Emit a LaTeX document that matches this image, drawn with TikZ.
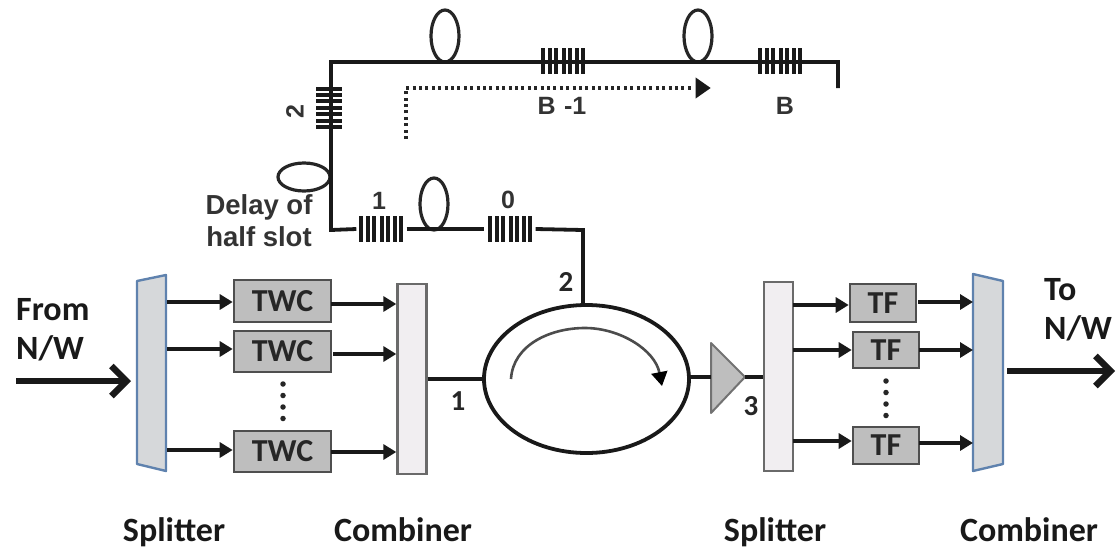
\documentclass[tikz,border=0pt]{standalone}
\usepackage{fontspec}
\setmainfont{Carlito}
\newfontfamily\arialb{Liberation Sans}
\usetikzlibrary{arrows.meta,shapes.geometric}
\definecolor{boxgrey}{HTML}{BEBEBE}
\definecolor{boxedge}{HTML}{4F4F4F}
\definecolor{trapfill}{HTML}{D6D8DA}
\definecolor{trapedge}{HTML}{5F82AE}
\definecolor{combfill}{HTML}{F1EEF1}
\definecolor{combedge}{HTML}{6A6A6A}
\tikzset{
  x=1pt,y=-1pt,
  fibre/.style={line width=3.8pt,black!90},
  loopv/.style={ellipse,draw=black!85,line width=3.2pt,fill=none,minimum width=28pt,minimum height=52pt,inner sep=0pt},
  looph/.style={ellipse,draw=black!85,line width=3.2pt,fill=none,minimum width=52pt,minimum height=28pt,inner sep=0pt},
  blockbox/.style={draw=boxedge,fill=boxgrey,line width=2.6pt,inner sep=0pt,font=\fontsize{32}{32}\selectfont\bfseries,text=black!85},
  combbox/.style={draw=combedge,fill=combfill,line width=2.4pt,inner sep=0pt,minimum width=29pt},
  trap/.style={draw=trapedge,fill=trapfill,line width=2.4pt,line join=round},
  feed/.style={line width=4.4pt,black!90,-{Triangle[length=13pt,width=15pt]}},
  bigarrow/.style={line width=6.5pt,black!90,-{Straight Barb[length=15pt,width=30pt,line width=6.5pt]}},
  gratingspot/.style={inner sep=0pt,draw=none,fill=none},
  capt/.style={font=\fontsize{34}{34}\selectfont\bfseries,text=black!90,inner sep=0pt,anchor=base},
  capw/.style={font=\fontsize{34}{34}\selectfont\bfseries,text=black!90,inner sep=0pt,anchor=base west},
  numlab/.style={font=\fontsize{29}{29}\selectfont\bfseries,text=black!85,inner sep=0pt},
  lab/.style={font=\arialb\fontsize{25}{25}\selectfont\bfseries,text=black!80,inner sep=0pt},
  dellab/.style={font=\arialb\fontsize{27.5}{27.5}\selectfont\bfseries,text=black!80,inner sep=0pt,anchor=base},
  dotrow/.style={line width=5.5pt,line cap=round,dash pattern=on 0pt off 11.5pt,black!85},
  dotfine/.style={line width=4pt,dash pattern=on 3pt off 3.4pt,black!85},
}
\newcommand{\gratv}[2]{% bars vertical, centre #2, name #1
  \node[gratingspot,minimum width=43pt,minimum height=25pt] (#1) at #2 {};
  \foreach \dx in {-20,-13,-7,1,7,14,20}
    \draw[line width=3.4pt,black!90] ([xshift=\dx pt]#1.north) -- ([xshift=\dx pt]#1.south);
}
\newcommand{\grath}[2]{% bars horizontal
  \node[gratingspot,minimum width=25pt,minimum height=42pt] (#1) at #2 {};
  \foreach \dy in {-19,-13,-6,0,7,13,19}
    \draw[line width=3.4pt,black!90] ([yshift=\dy pt]#1.west) -- ([yshift=\dy pt]#1.east);
}
\begin{document}
\begin{tikzpicture}
\useasboundingbox (0,0) rectangle (1117,549);
% fibre delay line
\coordinate (corner) at (331,230);
\coordinate (tl) at (331,62);
\coordinate (tr) at (838,62);
\coordinate (tend) at (838,88);
\coordinate (drop) at (583,230);
\gratv{g1}{(381,229)}
\gratv{g0}{(510,229)}
\gratv{gb1}{(563,61)}
\gratv{gb}{(780,61)}
\grath{g2}{(329,108)}
\node[loopv] (l0) at (434,204) {};
\node[loopv] (lt1) at (445,36) {};
\node[loopv] (lt2) at (698,36) {};
\node[looph] (ld) at (304,177) {};
\node[ellipse,draw=black!90,line width=3.8pt,minimum width=205pt,minimum height=148pt,inner sep=0pt] (circ) at (586.5,379) {};
\draw[fibre,line join=miter] ([xshift=-3pt]g1.west) -- (corner) -- (tl) -- (tr) -- (tend);
\draw[fibre] ([xshift=4pt]g1.east) -- ([xshift=-4pt]g0.west);
\draw[fibre,line join=miter] ([xshift=4pt]g0.east) -- (drop) -- (drop|-circ.north);
% circulator inner arrow
\coordinate (ca) at (511,379);
\coordinate (cb) at (662,386);
\draw[line width=2.6pt,black!70,-{Triangle[length=14pt,width=16pt,black]}] (ca) .. controls (513,345) and (550,328) .. (585,328) .. controls (620,328) and (655,350) .. (cb);
% dotted path
\coordinate (da) at (406,139);
\coordinate (db) at (406,88);
\coordinate (dc) at (711,88);
\draw[dotfine] (da) -- (db) -- (693,88);
\node[isosceles triangle,isosceles triangle apex angle=70,fill=black!90,inner sep=0pt,minimum height=15pt,minimum width=15pt,anchor=apex] (dhead) at (dc) {};
% left side
\draw[trap] (137,281) -- (166,275) -- (166,471) -- (137,464) -- cycle;
\node[blockbox,minimum width=97pt,minimum height=42pt] (twc1) at (282.5,301) {TWC};
\node[blockbox,minimum width=97pt,minimum height=41pt] (twc2) at (282.5,351.5) {TWC};
\node[blockbox,minimum width=97pt,minimum height=41pt] (twc3) at (282.5,451.5) {TWC};
\node[combbox,minimum height=190pt] (comb1) at (412,379) {};
\coordinate (sl1) at (167,302);
\coordinate (sl2) at (167,349);
\coordinate (sl3) at (167,450);
\coordinate (cl1) at (331,304);
\coordinate (cl2) at (333,354);
\coordinate (cl3) at (331,452);
\draw[feed] (sl1) -- (sl1-|twc1.west);
\draw[feed] (sl2) -- (sl2-|twc2.west);
\draw[feed] (sl3) -- (sl3-|twc3.west);
\draw[feed] (cl1) -- (cl1-|comb1.west);
\draw[feed] (cl2) -- (cl2-|comb1.west);
\draw[feed] (cl3) -- (cl3-|comb1.west);
\draw[fibre] (comb1.east|-circ.west) -- (circ.west);
\coordinate (d1a) at (283,384);
\coordinate (d1b) at (283,420);
\draw[dotrow] (d1a) -- (d1b);
\coordinate (fromstart) at (16,381);
\coordinate (fromend) at (131,381);
\draw[bigarrow] (fromstart) -- (fromend);
% right side
\coordinate (a1) at (711,343);
\coordinate (a2) at (711,413);
\coordinate (a3) at (745,377);
\draw[draw=boxedge!80,fill=boxgrey,line width=2pt,line join=round] (a1) -- (a3) -- (a2) -- cycle;
\node[combbox,minimum height=189pt] (split2) at (778.5,376.5) {};
\node[blockbox,minimum width=66pt,minimum height=38pt] (tf1) at (883,303) {TF};
\node[blockbox,minimum width=66pt,minimum height=36pt] (tf2) at (886,350) {TF};
\node[blockbox,minimum width=66pt,minimum height=37pt] (tf3) at (886,445.5) {TF};
\draw[trap] (973,274) -- (1003,281) -- (1003,464) -- (973,471) -- cycle;
\coordinate (tr0) at (973,350);
\draw[fibre] (circ.east|-a3) -- (a1|-a3);
\draw[fibre] (a3) -- (split2.west|-a3);
\coordinate (sr1) at (793,305);
\coordinate (sr2) at (793,350);
\coordinate (sr3) at (793,441);
\coordinate (cr1) at (918,302);
\coordinate (cr2) at (919,350);
\coordinate (cr3) at (919,443);
\draw[feed] (sr1) -- (sr1-|tf1.west);
\draw[feed] (sr2) -- (sr2-|tf2.west);
\draw[feed] (sr3) -- (sr3-|tf3.west);
\draw[feed] (cr1) -- (cr1-|tr0);
\draw[feed] (cr2) -- (cr2-|tr0);
\draw[feed] (cr3) -- (cr3-|tr0);
\coordinate (d2a) at (886,381);
\coordinate (d2b) at (886,417);
\draw[dotrow] (d2a) -- (d2b);
\coordinate (tostart) at (1007,371);
\coordinate (toend) at (1115,371);
\draw[bigarrow] (tostart) -- (toend);
% labels
\node[capw] (from) at (16,320) {From};
\node[capw] (nw1) at (16,359) {N/W};
\node[capw] (to) at (1044,300) {To};
\node[capw] (nw2) at (1044,339) {N/W};
\node[capt] (c1) at (174,541) {Splitter};
\node[capt] (c2) at (403,541) {Combiner};
\node[capt] (c3) at (775,541) {Splitter};
\node[capt] (c4) at (1029,541) {Combiner};
\node[numlab] (n1) at (458,401) {1};
\node[numlab] (n2) at (566,282) {2};
\node[numlab] (n3) at (751,406) {3};
\node[lab] (t1) at (379,201) {1};
\node[lab] (t0) at (508,200) {0};
\node[lab,rotate=90] (t2) at (295,112) {2};
\node[lab] (tb1) at (562,106) {B\,\,-1};
\node[lab] (tb) at (785,106) {B};
\node[dellab] (dl1) at (259,214) {Delay of};
\node[dellab] (dl2) at (259,246) {half slot};
\end{tikzpicture}
\end{document}
